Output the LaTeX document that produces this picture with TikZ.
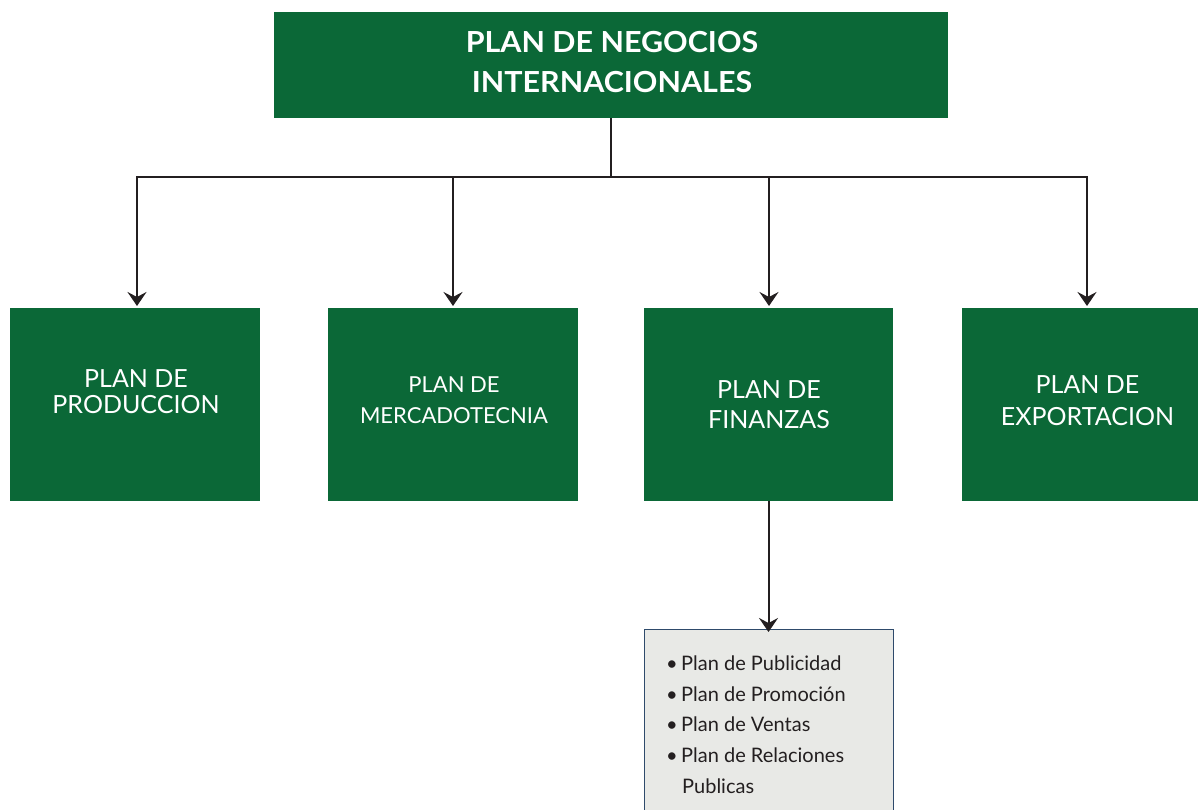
\documentclass[tikz,border=0pt]{standalone}
\usepackage{fontspec}
\setmainfont{Lato}
\usetikzlibrary{arrows.meta}
\definecolor{boxgreen}{HTML}{0B6837}
\definecolor{listfill}{HTML}{E8E9E6}
\definecolor{listborder}{HTML}{2E4A6B}
\definecolor{linecol}{HTML}{231F20}
\begin{document}
\begin{tikzpicture}[x=1pt,y=-1pt,
  greenbox/.style={fill=boxgreen,draw=none,inner sep=0pt},
  wt/.style={anchor=base,inner sep=0pt,text=white},
  ttl/.style={wt,font=\bfseries\fontsize{29}{34}\selectfont\addfontfeature{FakeStretch=1.05}},
  big/.style={wt,font=\fontsize{25}{30}\selectfont},
  mid/.style={wt,font=\fontsize{22}{26}\selectfont},
  conn/.style={draw=linecol,line width=2pt},
  arr/.style={conn,-{Stealth[length=14pt,width=19pt,inset=5pt]}},
  bl/.style={anchor=base west,inner sep=0pt,font=\fontsize{20}{24}\selectfont,text=linecol}]
\useasboundingbox (0,0) rectangle (1198,810);
\node[greenbox,minimum width=674pt,minimum height=106pt] (top) at (611,65) {};
\node[greenbox,minimum width=250pt,minimum height=193pt] (prod) at (135,404.5) {};
\node[greenbox,minimum width=250pt,minimum height=193pt] (merc) at (453,404.5) {};
\node[greenbox,minimum width=249pt,minimum height=193pt] (fin) at (768.5,404.5) {};
\node[greenbox,minimum width=236pt,minimum height=193pt] (exp) at (1080,404.5) {};
\node[fill=listfill,draw=listborder,line width=1pt,minimum width=249pt,minimum height=190pt,inner sep=0pt,anchor=north] (list) at (768.5,629) {};
% titles
\node[ttl] (t1) at (612,53) {PLAN DE NEGOCIOS};
\node[ttl] (t2) at (612,93) {INTERNACIONALES};
\node[big] (p1) at (136,387) {PLAN DE};
\node[big] (p2) at (136,413) {PRODUCCION};
\node[mid] (m1) at (454,392) {PLAN DE};
\node[mid] (m2) at (454,423) {MERCADOTECNIA};
\node[big] (f1) at (769,398) {PLAN DE};
\node[big] (f2) at (769,428) {FINANZAS};
\node[big] (e1) at (1087.5,393) {PLAN DE};
\node[big] (e2) at (1087.5,425) {EXPORTACION};
% connectors
\coordinate (hub) at (611,177);
\coordinate (hl) at (137,177);
\coordinate (hr) at (1087,177);
\coordinate (a1) at (137,177);
\coordinate (a2) at (453,177);
\coordinate (a3) at (769,177);
\coordinate (a4) at (1087,177);
\draw[conn] (top.south) -- (hub);
\draw[conn] ([xshift=-1pt]hl) -- ([xshift=1pt]hr);
\draw[arr] (a1) -- (137,306);
\draw[arr] (a2) -- (453,306);
\draw[arr] (a3) -- (769,306);
\draw[arr] (a4) -- (1087,306);
\draw[arr] (fin.south) -- ([yshift=-3pt]list.north);
% list
\node[bl] (b1) at (666,670) {•};
\node[bl] (b2) at (666,701) {•};
\node[bl] (b3) at (666,731) {•};
\node[bl] (b4) at (666,762) {•};
\node[bl] (l1) at (681,670) {Plan de Publicidad};
\node[bl] (l2) at (681,701) {Plan de Promoción};
\node[bl] (l3) at (681,731) {Plan de Ventas};
\node[bl] (l4) at (681,762) {Plan de Relaciones};
\node[bl] (l5) at (682,793) {Publicas};
\end{tikzpicture}
\end{document}
